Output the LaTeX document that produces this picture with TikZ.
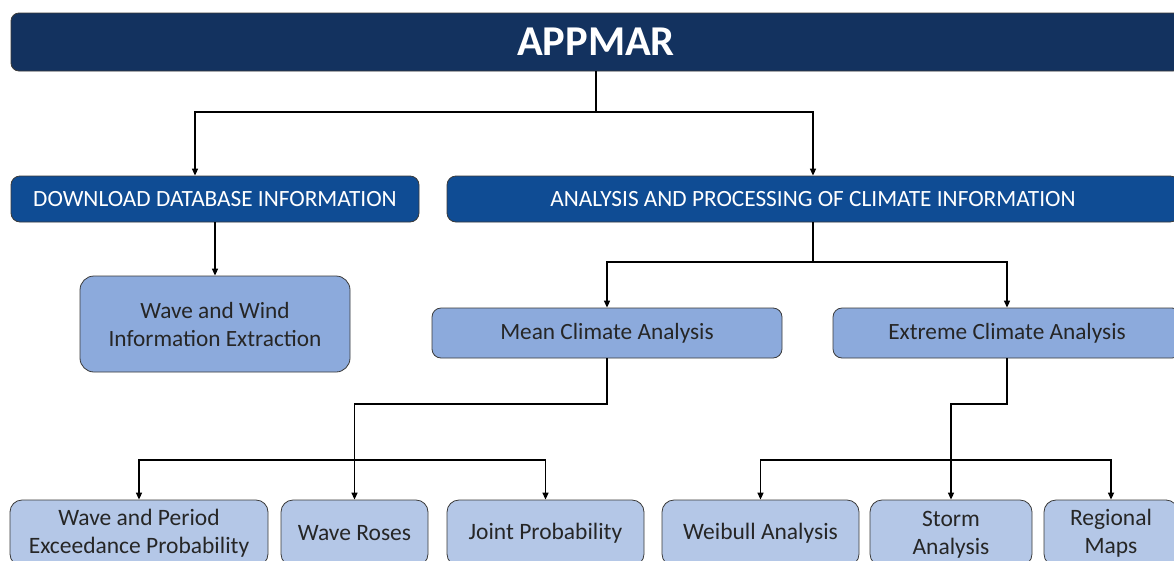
\documentclass[tikz,border=0pt]{standalone}
\usepackage{fontspec}
\setmainfont{Carlito}
\usetikzlibrary{arrows.meta}
\definecolor{topblue}{HTML}{13325F}
\definecolor{midblue}{HTML}{0F4C94}
\definecolor{boxblue}{HTML}{8CAADC}
\definecolor{lightblue}{HTML}{B4C7E7}
\definecolor{edgegray}{HTML}{3A3A3A}
\tikzset{
  topbar/.style={draw=edgegray, line width=0.8pt, fill=topblue, rounded corners=8pt, text=white,
    font=\fontsize{42.5}{46}\selectfont\bfseries, inner sep=0pt},
  lvtwo/.style={draw=edgegray, line width=0.8pt, fill=midblue, rounded corners=9pt, text=white,
    font=\fontsize{23.3}{28}\selectfont, inner sep=0pt},
  lvthree/.style={draw=edgegray, line width=0.8pt, fill=boxblue, rounded corners=14pt, text=black!85,
    font=\fontsize{23.3}{28}\selectfont, inner sep=0pt, align=center},
  lvfour/.style={draw=edgegray, line width=0.8pt, fill=lightblue, rounded corners=12pt, text=black!85,
    font=\fontsize{23.5}{28}\selectfont, inner sep=0pt, align=center},
  conn/.style={line width=1.5pt, black},
  arr/.style={conn, -{Triangle[length=7pt,width=6pt]}},
  arrboth/.style={conn, {Triangle[length=7pt,width=6pt]}-{Triangle[length=7pt,width=6pt]}},
}
\begin{document}
\begin{tikzpicture}[x=1pt,y=-1pt]
\useasboundingbox (0,0) rectangle (1174,560);
\clip (0,0) rectangle (1174,560);
\fill[white] (0,0) rectangle (1174,560);
% top
\node[topbar, minimum width=1170pt, minimum height=58pt] (appmar) at (596,42) {APPMAR};
% level 2
\node[lvtwo, minimum width=408pt, minimum height=46pt] (download) at (215,199) {DOWNLOAD DATABASE INFORMATION};
\node[lvtwo, minimum width=732pt, minimum height=46pt] (analysis) at (813,199) {ANALYSIS AND PROCESSING OF CLIMATE INFORMATION};
% level 3
\node[lvthree, minimum width=270pt, minimum height=96pt] (wavewind) at (215,324) {Wave and Wind\\Information Extraction};
\node[lvthree, rounded corners=9pt, minimum width=350pt, minimum height=50pt] (mean) at (607,333) {Mean Climate Analysis};
\node[lvthree, rounded corners=9pt, minimum width=348pt, minimum height=50pt] (extreme) at (1007,333) {Extreme Climate Analysis};
% level 4
\node[lvfour, minimum width=258pt, minimum height=66pt] (wp) at (139,533) {Wave and Period\\Exceedance Probability};
\node[lvfour, minimum width=147pt, minimum height=66pt] (roses) at (354.5,533) {Wave Roses};
\node[lvfour, minimum width=197pt, minimum height=66pt] (joint) at (545.5,533) {Joint Probability};
\node[lvfour, minimum width=197pt, minimum height=66pt] (weibull) at (760.5,533) {Weibull Analysis};
\node[lvfour, minimum width=162pt, minimum height=66pt, text depth=-2pt] (storm) at (951,533) {Storm\\Analysis};
\node[lvfour, minimum width=134pt, minimum height=66pt] (regional) at (1111,533) {Regional\\Maps};
% connectors
\coordinate (s1) at (596,112);
\draw[conn] (appmar.south) -- (s1);
\draw[arrboth] ([xshift=-20pt]download.north) |- (s1) -| (analysis.north);
\draw[arr] (download.south) -- (wavewind.north);
\coordinate (s2) at (813,262);
\draw[conn] (analysis.south) -- (s2);
\draw[arrboth] (mean.north) |- (s2) -| (extreme.north);
\coordinate (s3) at (607,404);
\draw[arr] (mean.south) -- (s3) -| (roses.north);
\coordinate (s4) at (354.5,460);
\draw[arrboth] (wp.north) |- (s4) -| (joint.north);
\coordinate (s5) at (1007,404);
\draw[arr] (extreme.south) -- (s5) -| (storm.north);
\coordinate (s6) at (951,460);
\draw[arrboth] (weibull.north) |- (s6) -| (regional.north);
\end{tikzpicture}
\end{document}
